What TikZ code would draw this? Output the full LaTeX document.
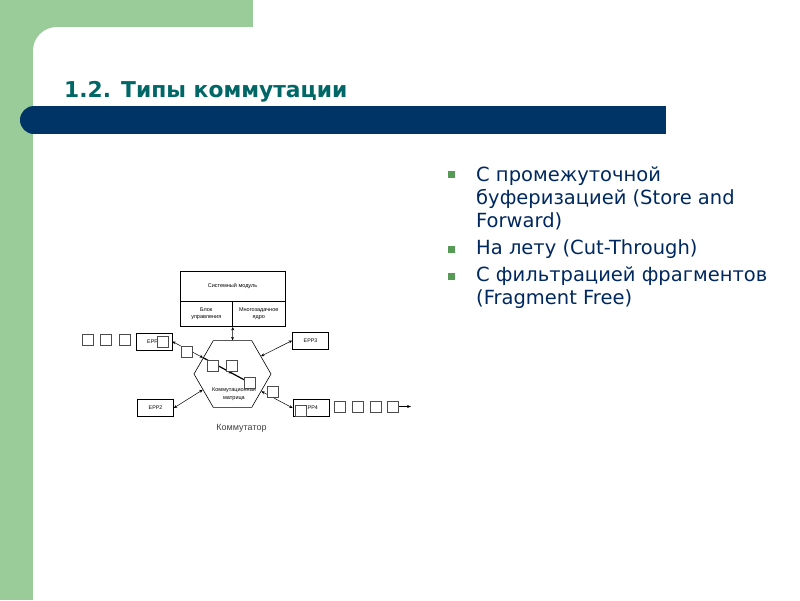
\documentclass[tikz,border=0pt]{standalone}
\usepackage{fontspec}
\setmainfont{DejaVu Sans}
\newfontfamily\diagfont{Liberation Sans}
\usetikzlibrary{
    positioning,
    arrows.meta,
    calc,
    shapes.geometric
}

\definecolor{bggreen}{RGB}{153,204,153}
\definecolor{barblue}{RGB}{0,51,102}
\definecolor{titleteal}{RGB}{0,102,102}
\definecolor{bullgreen}{RGB}{85,155,85}
\definecolor{textblue}{RGB}{0,40,95}

\begin{document}
\begin{tikzpicture}[
    x=1pt, y=-1pt,
    title/.style={
        anchor=base west, inner sep=0pt, text=titleteal,
        font=\fontsize{21.8}{25}\selectfont\bfseries
    },
    item/.style={
        anchor=base west, inner sep=0pt, align=left, text=textblue,
        font=\fontsize{19.5}{23}\selectfont
    },
    bullet/.style={fill=bullgreen, minimum size=7pt, inner sep=0pt},
    epp/.style={
        draw, line width=0.6pt, minimum width=36pt, minimum height=17pt, inner sep=0pt,
        font=\diagfont\fontsize{5.3}{6}\selectfont
    },
    modbox/.style={
        draw, line width=0.6pt, inner sep=0pt, align=center,
        font=\diagfont\fontsize{5.5}{7}\selectfont
    },
    frame/.style={draw=black!70, line width=0.6pt, fill=white, minimum size=11pt, inner sep=0pt},
    hex/.style={
        draw, line width=0.6pt, regular polygon, regular polygon sides=6,
        minimum size=77pt, inner sep=0pt
    },
    link/.style={{Stealth[length=3.5pt,width=3pt]}-{Stealth[length=3.5pt,width=3pt]}, line width=0.5pt},
    flow/.style={-{Stealth[length=4pt,width=3.5pt]}, line width=1.2pt},
    qarrow/.style={-{Stealth[length=4pt,width=3pt]}, line width=0.5pt}
]

\useasboundingbox (0,0) rectangle (800,600);

% ============================== SLIDE ==============================
\fill[bggreen] (0,0) rectangle (253,27);
\fill[bggreen] (0,0) rectangle (33,600);
\fill[bggreen] (33,27) rectangle (57,51);
\fill[white] (57,51) circle (24pt);

\fill[barblue] (34,106) rectangle (666,134);
\fill[barblue] (34,120) circle (14pt);

\node[title] (slide_title) at (64,97) {1.2. Типы коммутации};

% bullet list (base = last line)
\node[bullet] (b1) at (451,174) {};
\node[item] (item1) at (476,227) {С промежуточной\\буферизацией (Store and\\Forward)};
\node[bullet] (b2) at (451,249) {};
\node[item] (item2) at (476,254) {На лету (Cut-Through)};
\node[bullet] (b3) at (451,276) {};
\node[item] (item3) at (476,304) {С фильтрацией фрагментов\\(Fragment Free)};

% ============================== SWITCH ==============================
% system module
\node[modbox, minimum width=105pt, minimum height=30pt] (sys_mod) at (232.5,286) {Системный модуль};
\node[modbox, minimum width=52.5pt, minimum height=25pt, below right=0pt of sys_mod.south west] (ctrl_blk) {Блок\\управления};
\node[modbox, minimum width=52.5pt, minimum height=25pt, below left=0pt of sys_mod.south east] (mt_core) {Многозадачное\\ядро};

% switching matrix
\node[hex] (matrix_hex) at (232.5,374) {};
\node[font=\diagfont\fontsize{5.5}{7.5}\selectfont, align=center, inner sep=0pt] (matrix_lbl) at (234,394) {Коммутационная\\матрица};

% port processors
\node[epp] (epp1) at (154,341.5) {EPP1};
\node[epp] (epp2) at (155.5,408) {EPP2};
\node[epp] (epp3) at (310.5,340.5) {EPP3};
\node[epp] (epp4) at (311,408) {EPP4};

\node[font=\diagfont\fontsize{9}{10}\selectfont, text=black!75] (sw_lbl) at (241.5,428) {Коммутатор};

% links
\draw[link] (ctrl_blk.south east) -- (matrix_hex.north);
\draw[link] (epp1.east) -- (matrix_hex.151);
\draw[link] (epp2.east) -- (matrix_hex.208);
\draw[link] (epp3.west) -- (matrix_hex.32);
\draw[link] (matrix_hex.329) -- (epp4.west);

% frame path through the matrix
\coordinate (flow_end) at (252,384);
\draw[flow] (matrix_hex.151) -- ($(matrix_hex.151)!0.6!(flow_end)$);
\draw[line width=1.2pt] ($(matrix_hex.151)!0.58!(flow_end)$) -- (flow_end);

% frames
\node[frame] (q1) at (87.5,340) {};
\node[frame, right=7pt of q1] (q2) {};
\node[frame, right=7pt of q2] (q3) {};
\node[frame] (f1) at (162.5,341.5) {};
\node[frame] (f2) at (186.5,351.5) {};
\node[frame] (f3) at (212.5,365.5) {};
\node[frame] (f4) at (231.5,365.5) {};
\node[frame] (f5) at (250,382.5) {};
\node[frame] (f6) at (272.5,392) {};
\node[frame] (f7) at (301,410.5) {};
\node[frame] (r1) at (339.5,406.5) {};
\node[frame, right=6.3pt of r1] (r2) {};
\node[frame, right=6.3pt of r2] (r3) {};
\node[frame, right=6.3pt of r3] (r4) {};
\coordinate (q_out) at (411,406.5);
\draw[qarrow] (r4.east) -- (q_out);

\end{tikzpicture}
\end{document}
